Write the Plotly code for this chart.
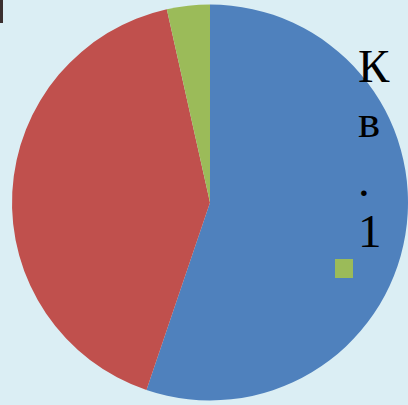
import plotly.graph_objects as go

labels = ["Кв. 1", "Кв. 2", "Кв. 3"]
values = [55.2, 41.3, 3.5]
colors = ["#4f81bd", "#c0504d", "#9bbb59"]
legend_lines = ["К", "в", ".", "1"]

W, H = 408, 405

fig = go.Figure(go.Pie(
    labels=labels, values=values, sort=False, direction="clockwise", rotation=0,
    marker=dict(colors=colors, line=dict(width=0)),
    textinfo="none", hoverinfo="label+percent",
    domain=dict(x=[12 / W, 1], y=[0, 1]),
    showlegend=False,
))

line_centers = [66, 121, 180, 231]
for txt, yc in zip(legend_lines, line_centers):
    fig.add_annotation(text=txt, x=356 / W, y=1 - yc / H, xref="paper", yref="paper",
                       xanchor="left", yanchor="middle", showarrow=False,
                       font=dict(family="Liberation Serif", size=47, color="#000000"))

fig.add_shape(type="rect", xref="paper", yref="paper",
              x0=335 / W, x1=353 / W, y0=1 - 278 / H, y1=1 - 259 / H,
              fillcolor=colors[2], line=dict(width=0))
fig.add_shape(type="rect", xref="paper", yref="paper",
              x0=0, x1=3 / W, y0=1 - 23 / H, y1=1,
              fillcolor="#3b2f2f", line=dict(width=0))

fig.update_layout(width=W, height=H, margin=dict(l=0, r=0, t=0, b=0),
                  paper_bgcolor="#dbeef4", plot_bgcolor="#dbeef4")
fig.write_html("out.html", config={"displayModeBar": False},
               post_script="document.body.style.margin='0';document.body.style.background='#dbeef4';")
